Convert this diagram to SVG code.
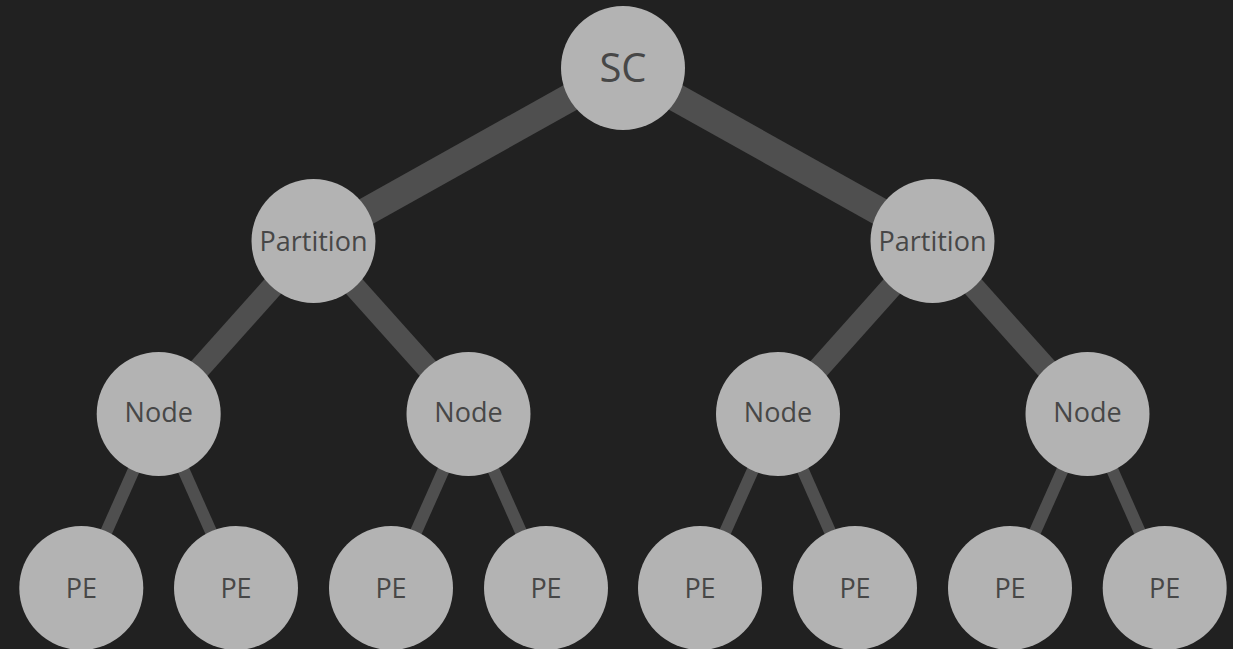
<svg xmlns="http://www.w3.org/2000/svg" width="1233" height="649" viewBox="0 0 1233 649">
<style>
.n{fill:#b3b3b3}
.t{font-family:"Open Sans","Noto Sans",sans-serif;fill:#474747;text-anchor:middle}
.e{stroke:#4f4f4f;stroke-linecap:butt}
</style>
<rect width="1233" height="649" fill="#212121"/>
<g id="connectors">
<line class="e" stroke-width="28" x1="623" y1="68" x2="313.5" y2="241"/>
<line class="e" stroke-width="28" x1="623" y1="68" x2="932.5" y2="241"/>
<line class="e" stroke-width="22" x1="313.5" y1="241" x2="158.7" y2="414"/>
<line class="e" stroke-width="22" x1="313.5" y1="241" x2="468.5" y2="414"/>
<line class="e" stroke-width="22" x1="932.5" y1="241" x2="778" y2="414"/>
<line class="e" stroke-width="22" x1="932.5" y1="241" x2="1087.5" y2="414"/>
<line class="e" stroke-width="12" x1="158.7" y1="414" x2="81.3" y2="588"/>
<line class="e" stroke-width="12" x1="158.7" y1="414" x2="236" y2="588"/>
<line class="e" stroke-width="12" x1="468.5" y1="414" x2="391" y2="588"/>
<line class="e" stroke-width="12" x1="468.5" y1="414" x2="546" y2="588"/>
<line class="e" stroke-width="12" x1="778" y1="414" x2="700" y2="588"/>
<line class="e" stroke-width="12" x1="778" y1="414" x2="855" y2="588"/>
<line class="e" stroke-width="12" x1="1087.5" y1="414" x2="1010" y2="588"/>
<line class="e" stroke-width="12" x1="1087.5" y1="414" x2="1164.7" y2="588"/>
</g>
<g id="sc"><circle class="n" cx="623" cy="68" r="62"/><text class="t" x="623" y="82" font-size="40">SC</text></g>
<g id="partition1"><circle class="n" cx="313.5" cy="241" r="62"/><text class="t" x="313.5" y="251" font-size="27">Partition</text></g>
<g id="partition2"><circle class="n" cx="932.5" cy="241" r="62"/><text class="t" x="932.5" y="251" font-size="27">Partition</text></g>
<g id="node1"><circle class="n" cx="158.7" cy="414" r="62"/><text class="t" x="158.7" y="421.5" font-size="27">Node</text></g>
<g id="node2"><circle class="n" cx="468.5" cy="414" r="62"/><text class="t" x="468.5" y="421.5" font-size="27">Node</text></g>
<g id="node3"><circle class="n" cx="778" cy="414" r="62"/><text class="t" x="778" y="421.5" font-size="27">Node</text></g>
<g id="node4"><circle class="n" cx="1087.5" cy="414" r="62"/><text class="t" x="1087.5" y="421.5" font-size="27">Node</text></g>
<g id="pe1"><circle class="n" cx="81.3" cy="588" r="62"/><text class="t" x="81.3" y="597.5" font-size="27">PE</text></g>
<g id="pe2"><circle class="n" cx="236" cy="588" r="62"/><text class="t" x="236" y="597.5" font-size="27">PE</text></g>
<g id="pe3"><circle class="n" cx="391" cy="588" r="62"/><text class="t" x="391" y="597.5" font-size="27">PE</text></g>
<g id="pe4"><circle class="n" cx="546" cy="588" r="62"/><text class="t" x="546" y="597.5" font-size="27">PE</text></g>
<g id="pe5"><circle class="n" cx="700" cy="588" r="62"/><text class="t" x="700" y="597.5" font-size="27">PE</text></g>
<g id="pe6"><circle class="n" cx="855" cy="588" r="62"/><text class="t" x="855" y="597.5" font-size="27">PE</text></g>
<g id="pe7"><circle class="n" cx="1010" cy="588" r="62"/><text class="t" x="1010" y="597.5" font-size="27">PE</text></g>
<g id="pe8"><circle class="n" cx="1164.7" cy="588" r="62"/><text class="t" x="1164.7" y="597.5" font-size="27">PE</text></g>
</svg>
